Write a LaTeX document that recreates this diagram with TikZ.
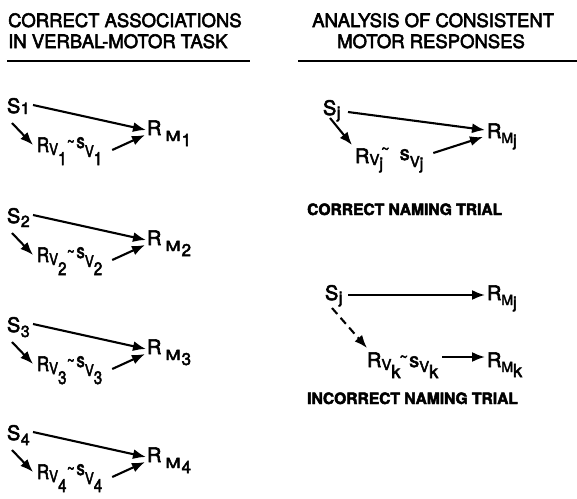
\documentclass[tikz,border=0pt]{standalone}
\usepackage{fontspec}
\setmainfont{TeX Gyre Heros}[FakeBold=3]
\usetikzlibrary{arrows.meta}
\newcommand{\lowr}[3]{\raisebox{-#1pt}{\fontsize{#2}{#2}\selectfont #3}}
\newcommand{\Slab}[2]{S\kern0.5pt\lowr{#1}{16}{#2}}
\newcommand{\RMlab}[1]{R\kern4pt\lowr{6}{14}{\scalebox{1.3}[1]{M}}\kern1pt\lowr{11}{17}{#1}}
\newcommand{\RVlab}[1]{\scalebox{0.84}[1]{R\lowr{3}{16}{V}\lowr{13}{18}{#1}\kern0.5pt\raisebox{5pt}{\fontsize{16}{16}\selectfont\textasciitilde}\kern2pt\raisebox{4pt}{s}\lowr{5}{16}{V}\lowr{13}{18}{#1}}}
\newcommand{\RMr}[3]{R\lowr{5}{14}{M}\lowr{#1}{#2}{#3}}
\newcommand{\RVj}{R\lowr{2}{15}{V}\lowr{6}{16}{j}\kern-2pt\raisebox{9pt}{\fontsize{15}{15}\selectfont\textasciitilde}\kern10pt\raisebox{3pt}{s}\lowr{4}{15}{V}\lowr{6}{16}{j}}
\newcommand{\RVk}{R\lowr{3}{15}{V}\lowr{11}{18}{k}\kern-1pt\raisebox{5pt}{\fontsize{15}{15}\selectfont\textasciitilde}\kern1pt s\lowr{5}{15}{V}\lowr{11}{18}{k}}
\begin{document}
\begin{tikzpicture}[x=1pt,y=-1pt,
  lbl/.style={inner sep=0pt, outer sep=0pt, anchor=base west, font=\fontsize{20}{20}\selectfont},
  head/.style={inner sep=0pt, anchor=base west, font=\fontsize{18.5}{22}\selectfont},
  trial/.style={inner sep=0pt, anchor=base west, font=\fontsize{15.6}{18}\selectfont\bfseries},
  arr/.style={line width=2.1pt, -{Latex[length=13pt,width=10pt]}},
  rule/.style={line width=1.7pt}]
\useasboundingbox (0,0) rectangle (577,498);
% headings
\node[head] (h1) at (8,27) {CORRECT ASSOCIATIONS};
\node[head] (h2) at (8,48) {IN VERBAL-MOTOR TASK};
\node[head] (h3) at (312,27) {ANALYSIS OF CONSISTENT};
\node[head] (h4) at (337,48) {MOTOR RESPONSES};
\coordinate (u1a) at (7,61); \coordinate (u1b) at (250,61);
\coordinate (u2a) at (298,61); \coordinate (u2b) at (577,61);
\draw[rule] (u1a) -- (u1b);
\draw[rule] (u2a) -- (u2b);
% left blocks
\foreach \i/\dy/\sl in {1/0/1, 2/110/4, 3/219/5, 4/327/5}{
  \node[lbl] (S\i) at (7,113+\dy) {\Slab{\sl}{\i}};
  \node[lbl] (RM\i) at (147,135+\dy) {\RMlab{\i}};
  \node[lbl] (RV\i) at (37,152+\dy) {\RVlab{\i}};
  \draw[arr] ([shift={(26,-8)}]S\i.base west) -- ([shift={(-1,-5)}]RM\i.base west);
  \draw[arr] ([shift={(5,10)}]S\i.base west) -- ([shift={(-4,-7)}]RV\i.base west);
  \draw[arr] ([shift={(10,-2)}]RV\i.base east) -- ([shift={(-2,0)}]RM\i.base west);
}
% correct naming trial
\node[lbl] (Sjc) at (323,115) {\Slab{3}{j}};
\node[lbl] (RMjc) at (487,138) {\RMr{8}{16}{j}};
\node[lbl] (RVjc) at (355,163) {\RVj};
\draw[arr] ([shift={(25,-3)}]Sjc.base west) -- ([shift={(-2,-8)}]RMjc.base west);
\draw[arr] ([shift={(7,3)}]Sjc.base west) -- ([shift={(-3,-18)}]RVjc.base west);
\draw[arr] ([shift={(10,-10)}]RVjc.base east) -- ([shift={(-4,-1)}]RMjc.base west);
\node[trial] (tc) at (307,215) {CORRECT NAMING TRIAL};
% incorrect naming trial
\node[lbl] (Sji) at (325,300) {\Slab{3}{j}};
\node[lbl] (RMji) at (487,300) {\RMr{8}{16}{j}};
\node[lbl] (RVk) at (367,367) {\RVk};
\node[lbl] (RMk) at (487,367) {\RMr{10}{18}{k}};
\draw[arr] ([shift={(23,-5)}]Sji.base west) -- ([shift={(-2,-5)}]RMji.base west);
\draw[arr, dash pattern=on 8pt off 5pt] ([shift={(7,8)}]Sji.base west) -- ([shift={(0,-19)}]RVk.base west);
\draw[arr] ([shift={(4,-10)}]RVk.base east) -- ([shift={(-2,-10)}]RMk.base west);
\node[trial] (ti) at (307,404) {INCORRECT NAMING TRIAL};
\end{tikzpicture}
\end{document}
